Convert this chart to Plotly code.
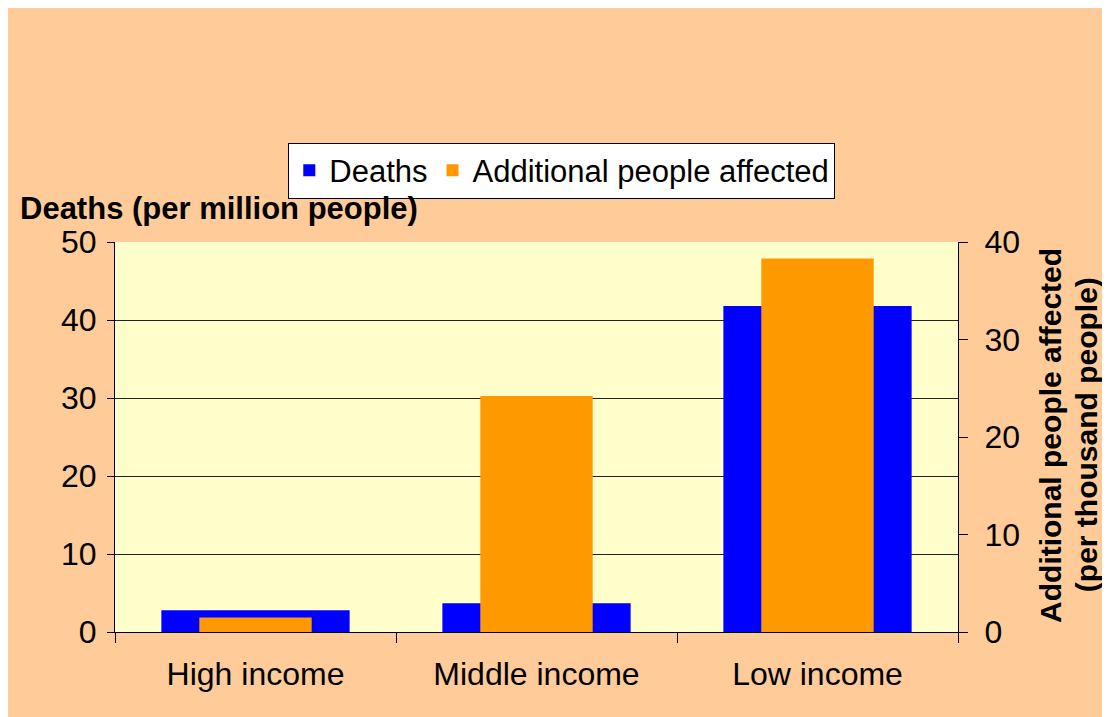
import plotly.graph_objects as go

categories = ["High income", "Middle income", "Low income"]
deaths = [2.8, 3.7, 41.8]
affected = [1.5, 24.2, 38.3]

FONT = "Liberation Sans, Arial, sans-serif"

fig = go.Figure()
fig.add_trace(go.Bar(x=categories, y=deaths, name="Deaths", marker_color="#0000FF",
                     marker_line_width=0, width=0.67, yaxis="y"))
fig.add_trace(go.Bar(x=categories, y=affected, name="Additional people affected",
                     marker_color="#FF9900", marker_line_width=0, width=0.40, yaxis="y2"))

fig.update_layout(
    width=1102, height=709,
    paper_bgcolor="#FFCC99", plot_bgcolor="#FFFFCC",
    barmode="overlay",
    margin=dict(l=107, r=152, t=234, b=85),
    font=dict(family=FONT, size=32, color="black"),
    showlegend=True,
    legend=dict(orientation="h", x=0.53, xanchor="center", y=1.255, yanchor="top",
                bgcolor="white", bordercolor="black", borderwidth=1,
                font=dict(size=31), itemwidth=30, traceorder="normal",
                tracegroupgap=0),
    xaxis=dict(showline=True, linecolor="black", linewidth=1, ticks="outside",
               tickson="boundaries", ticklen=10, tickcolor="black",
               ticklabelstandoff=14,
               tickfont=dict(size=32), showgrid=False, fixedrange=True),
    yaxis=dict(range=[0, 50], dtick=10, showline=True, linecolor="black", linewidth=1,
               ticks="outside", ticklen=7, tickcolor="black", showgrid=True,
               ticklabelstandoff=4,
               gridcolor="#222222", gridwidth=1, zeroline=False, tickfont=dict(size=32)),
    yaxis2=dict(range=[0, 40], dtick=10, overlaying="y", side="right", showline=True,
                linecolor="black", linewidth=1, ticks="outside", ticklen=9, tickcolor="black",
                ticklabelstandoff=10,
                showgrid=False, zeroline=False, tickfont=dict(size=32)),
    annotations=[
        dict(text="<b>Deaths (per million people)</b>", xref="paper", yref="paper",
             x=-0.115, y=1.086, xanchor="left", yanchor="middle", showarrow=False,
             font=dict(size=31)),
        dict(text="<b>Additional people affected</b>",
             xref="paper", yref="paper", x=1.109, y=0.505, xanchor="center", yanchor="middle",
             textangle=-90, showarrow=False, font=dict(size=30)),
        dict(text="<b>(per thousand people)</b>",
             xref="paper", yref="paper", x=1.152, y=0.505, xanchor="center", yanchor="middle",
             textangle=-90, showarrow=False, font=dict(size=30)),
    ],
)

fig.write_html("out.html")
